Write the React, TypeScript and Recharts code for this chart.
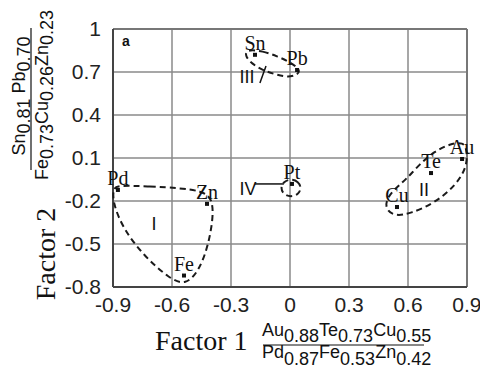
import { CartesianGrid, ReferenceLine, Scatter, ScatterChart, XAxis, YAxis } from 'recharts';

const ticksX = [-0.9, -0.6, -0.3, 0, 0.3, 0.6, 0.9];
const ticksY = [-0.8, -0.5, -0.2, 0.1, 0.4, 0.7, 1];

// element loadings on factor 1 / factor 2
const elements = ['Sn', 'Pb', 'Pd', 'Zn', 'Fe', 'Pt', 'Te', 'Au', 'Cu'];
const factor1 = [-0.178, 0.036, -0.875, -0.422, -0.539, 0.01, 0.717, 0.875, 0.544];
const factor2 = [0.82, 0.714, -0.123, -0.22, -0.72, -0.081, -0.005, 0.093, -0.242];

// dashed group outlines
const groupOne = [
  { x: -0.875, y: -0.09 }, { x: -0.712, y: -0.098 }, { x: -0.559, y: -0.11 }, { x: -0.45, y: -0.13 },
  { x: -0.395, y: -0.18 }, { x: -0.39, y: -0.312 }, { x: -0.415, y: -0.507 }, { x: -0.46, y: -0.68 },
  { x: -0.53, y: -0.79 }, { x: -0.615, y: -0.74 }, { x: -0.745, y: -0.58 }, { x: -0.85, y: -0.39 },
  { x: -0.9, y: -0.214 }, { x: -0.9, y: -0.115 },
];
const groupTwo = [
  { x: 0.488, y: -0.193 }, { x: 0.53, y: -0.118 }, { x: 0.592, y: -0.048 }, { x: 0.658, y: 0.056 },
  { x: 0.735, y: 0.148 }, { x: 0.814, y: 0.198 }, { x: 0.882, y: 0.212 }, { x: 0.9, y: 0.156 },
  { x: 0.9, y: 0.037 }, { x: 0.842, y: -0.092 }, { x: 0.737, y: -0.213 }, { x: 0.61, y: -0.29 },
  { x: 0.532, y: -0.305 }, { x: 0.488, y: -0.26 },
];
const groupThree = [
  { x: -0.222, y: 0.858 }, { x: -0.137, y: 0.846 }, { x: -0.066, y: 0.81 }, { x: 0.003, y: 0.768 },
  { x: 0.066, y: 0.7 }, { x: 0.003, y: 0.66 }, { x: -0.066, y: 0.68 }, { x: -0.137, y: 0.71 },
  { x: -0.196, y: 0.76 }, { x: -0.228, y: 0.812 },
];
const groupFour = [
  { x: 0.058, y: -0.109 }, { x: 0.043, y: -0.064 }, { x: 0.005, y: -0.046 }, { x: -0.033, y: -0.064 },
  { x: -0.048, y: -0.109 }, { x: -0.033, y: -0.154 }, { x: 0.005, y: -0.172 }, { x: 0.043, y: -0.154 },
];

const groupNames = ['I', 'II', 'III', 'IV', 'a'];
const groupX = [-0.692, 0.681, -0.219, -0.214, -0.835];
const groupY = [-0.354, -0.123, 0.665, -0.116, 0.92];

const factor1Top = [['Au', '0.88'], ['Te', '0.73'], ['Cu', '0.55']];
const factor1Bottom = [['Pd', '0.87'], ['Fe', '0.53'], ['Zn', '0.42']];
const factor2Top = [['Sn', '0.81 '], ['Pb', '0.70']];
const factor2Bottom = [['Fe', '0.73'], ['Cu', '0.26'], ['Zn', '0.23']];

const points = elements.map((name, i) => ({ name, x: factor1[i], y: factor2[i] }));
const groupLabels = groupNames.map((label, i) => ({ label, x: groupX[i], y: groupY[i] }));

const sans = 'Liberation Sans, Arial, sans-serif';
const serif = 'Liberation Serif, Times New Roman, serif';
const outline = { stroke: '#1a1a1a', strokeWidth: 2, strokeDasharray: '6 4' };

const subParts = (parts: string[][], shift: number) =>
  parts.flatMap(([el, val], i) => [
    <tspan key={`e${i}`} dy={i === 0 ? 0 : -shift}>{el}</tspan>,
    <tspan key={`v${i}`} dy={shift}>{val}</tspan>,
  ]);

const ElementDot = (props: any) => {
  const { cx, cy, payload } = props;
  return (
    <g>
      <rect x={cx - 2} y={cy - 2} width={4} height={4} fill="#111" />
      <text x={cx} y={cy - 5} textAnchor="middle" fontFamily={serif} fontSize={20} fill="#111">
        {payload.name}
      </text>
    </g>
  );
};

const GroupText = (props: any) => {
  const { cx, cy, payload } = props;
  const isTag = payload.label === 'a';
  return (
    <text
      x={cx}
      y={cy}
      dy="0.36em"
      textAnchor="middle"
      fontFamily={sans}
      fontSize={isTag ? 14 : 18}
      fontWeight={isTag ? 'bold' : 'normal'}
      fill="#111"
    >
      {payload.label}
    </text>
  );
};

const XTitle = () => (
  <g fill="#111">
    <text x={155} y={350} fontFamily={serif} fontSize={28}>Factor 1</text>
    <text x={262} y={336} fontFamily={sans} fontSize={18}>{subParts(factor1Top, 6)}</text>
    <line x1={263} x2={424} y1={345} y2={345} stroke="#111" strokeWidth={1.2} />
    <text x={262} y={358} fontFamily={sans} fontSize={18}>{subParts(factor1Bottom, 7)}</text>
  </g>
);

const YTitle = () => (
  <g fill="#111">
    <text transform="translate(55,254) rotate(-90)" textAnchor="middle" fontFamily={serif} fontSize={28}>
      Factor 2
    </text>
    <text transform="translate(25,96) rotate(-90)" textAnchor="middle" fontFamily={sans} fontSize={18}>
      {subParts(factor2Top, 5)}
    </text>
    <line x1={31} x2={31} y1={28} y2={170} stroke="#111" strokeWidth={1.2} />
    <text transform="translate(48,95) rotate(-90)" textAnchor="middle" fontFamily={sans} fontSize={18}>
      {subParts(factor2Bottom, 5)}
    </text>
  </g>
);

export default function App() {
  return (
    <div style={{ position: 'absolute', left: 0, top: 0, background: '#fff' }}>
      <ScatterChart width={480} height={371} margin={{ top: 29, right: 13, left: 0, bottom: 0 }}>
        <CartesianGrid stroke="#8a8a8a" strokeWidth={1.5} />
        <XAxis
          type="number"
          dataKey="x"
          domain={[-0.9, 0.9]}
          ticks={ticksX}
          height={84}
          tickLine={false}
          tickSize={0}
          tickMargin={10}
          stroke="#444"
          strokeWidth={2}
          tick={{ fontSize: 21, fontFamily: sans, fill: '#222' }}
          label={XTitle}
        />
        <YAxis
          type="number"
          dataKey="y"
          domain={[-0.8, 1]}
          ticks={ticksY}
          width={113}
          tickLine={false}
          tickSize={0}
          tickMargin={12}
          stroke="#444"
          strokeWidth={2}
          tick={{ fontSize: 21, fontFamily: sans, fill: '#222' }}
          label={YTitle}
        />
        <ReferenceLine x={0.9} stroke="#777" strokeWidth={2} />
        <ReferenceLine y={1} stroke="#777" strokeWidth={2} />
        <Scatter data={groupOne} line={outline} lineJointType="basisClosed" shape={() => <g />} isAnimationActive={false} />
        <Scatter data={groupTwo} line={outline} lineJointType="basisClosed" shape={() => <g />} isAnimationActive={false} />
        <Scatter data={groupThree} line={outline} lineJointType="basisClosed" shape={() => <g />} isAnimationActive={false} />
        <Scatter data={groupFour} line={outline} lineJointType="basisClosed" shape={() => <g />} isAnimationActive={false} />
        <ReferenceLine segment={[{ x: -0.153, y: 0.623 }, { x: -0.122, y: 0.742 }]} stroke="#111" strokeWidth={1.5} />
        <ReferenceLine segment={[{ x: -0.178, y: -0.081 }, { x: -0.031, y: -0.081 }]} stroke="#111" strokeWidth={1.5} />
        <Scatter data={points} shape={ElementDot} isAnimationActive={false} />
        <Scatter data={groupLabels} shape={GroupText} isAnimationActive={false} />
      </ScatterChart>
    </div>
  );
}
